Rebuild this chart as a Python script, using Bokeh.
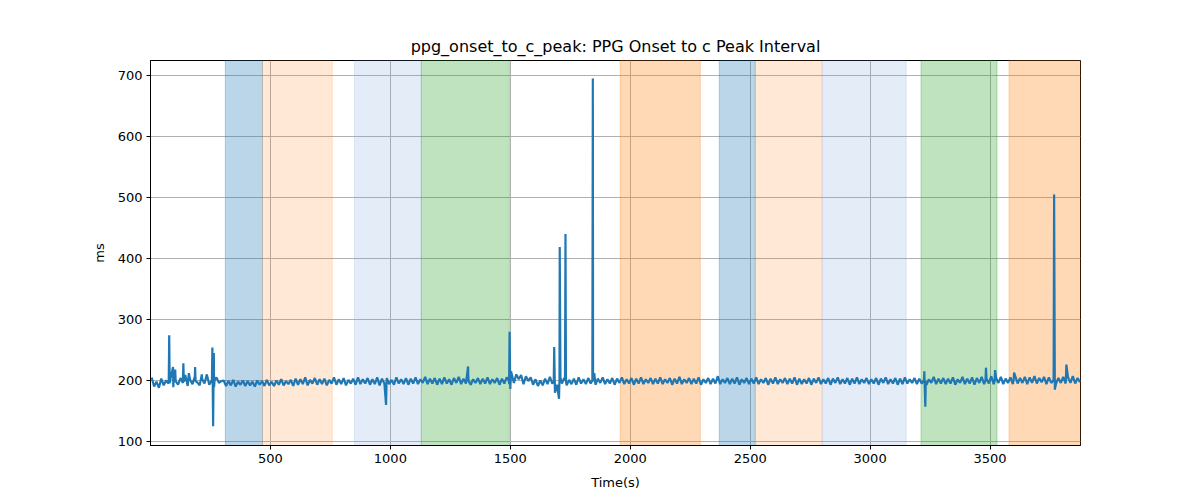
import numpy as np
from bokeh.plotting import figure
from bokeh.models import BoxAnnotation, FixedTicker
from bokeh.embed import file_html
from bokeh.resources import INLINE

# ---- data ----
t_start, t_step = 5, 10
base_values = [
    205, 190, 198, 188, 203, 192, 200, 195, 206, 189, 199, 193, 204, 196, 209, 191, 201, 194, 207, 197, 192, 203, 195, 210, 193, 200, 189, 205, 196, 199,
    200, 191, 199, 192, 201, 190, 198, 193, 200, 191, 199, 192, 198, 190, 200, 193, 199, 191, 201, 192, 198, 191, 200, 193, 202, 192, 199, 194, 201, 191,
    203, 193, 202, 194, 205, 192, 201, 195, 204, 193, 202, 194, 203, 192, 201, 195, 205, 193, 202, 194, 204, 192, 201, 195, 203, 193, 205, 194, 202, 195,
    204, 193, 202, 194, 205, 192, 203, 195, 204, 194, 201, 193, 205, 195, 202, 194, 204, 193, 203, 195, 205, 194, 202, 196, 206, 194, 203, 195, 204, 193,
    203, 194, 205, 195, 202, 193, 204, 196, 206, 194, 203, 195, 205, 193, 202, 196, 204, 194, 203, 195, 205, 194, 202, 196, 204, 193, 203, 195, 205, 194,
    212, 196, 210, 202, 209, 194, 207, 199, 205, 193, 202, 191, 200, 192, 203, 194, 206, 195, 205, 193, 202, 195, 204, 192, 201, 194, 203, 193, 205, 195,
    202, 194, 204, 195, 201, 193, 203, 196, 205, 194, 202, 195, 204, 193, 203, 196, 205, 194, 202, 195, 204, 193, 203, 195, 205, 194, 202, 196, 204, 194,
    203, 195, 205, 194, 202, 196, 204, 193, 203, 195, 206, 194, 202, 196, 204, 194, 203, 195, 205, 193, 202, 196, 204, 194, 203, 195, 207, 194, 202, 196,
    204, 194, 203, 195, 205, 193, 202, 196, 204, 194, 203, 195, 205, 194, 202, 196, 204, 193, 203, 195, 205, 194, 202, 196, 204, 194, 203, 195, 205, 193,
    203, 194, 202, 195, 204, 193, 203, 196, 205, 194, 202, 195, 204, 193, 203, 196, 205, 194, 202, 195, 204, 193, 203, 195, 205, 194, 202, 196, 204, 194,
    202, 195, 204, 193, 203, 196, 205, 194, 202, 195, 204, 193, 203, 194, 205, 195, 202, 196, 204, 194, 203, 195, 205, 193, 202, 196, 206, 194, 203, 195,
    204, 194, 203, 195, 205, 193, 202, 196, 206, 194, 203, 195, 205, 193, 204, 196, 206, 194, 203, 195, 207, 194, 204, 196, 206, 194, 203, 196, 205, 194,
    207, 195, 204, 196, 206, 194, 205, 196, 207, 195, 204, 197, 206, 194, 205, 196, 207, 195, 204, 196, 206, 195, 205, 196, 207, 195, 204, 197,
]
spike_times = [76, 78, 80, 94, 97, 101, 103, 137, 139, 160, 186, 188, 214,
               256, 258, 261, 264, 267, 982, 984, 1324, 1326,
               1494, 1497, 1500, 1503, 1681, 1683, 1686, 1703, 1706, 1709,
               1728, 1730, 1732, 1842, 1844, 1847, 1850,
               3224, 3226, 3230, 3232, 3481, 3483, 3519, 3521, 3598, 3600,
               3764, 3767, 3770, 3816, 3818]
spike_values = [198, 274, 196, 222, 200, 205, 218, 228, 198, 212, 222, 199, 210,
                200, 254, 125, 245, 200, 160, 197, 223, 199,
                200, 280, 186, 215, 198, 255, 180, 170, 419, 205,
                200, 440, 198, 200, 695, 199, 212,
                200, 215, 157, 199, 200, 221, 199, 217, 200, 213,
                200, 505, 185, 200, 226]

band_start = [312, 467, 850, 1129, 1958, 2371, 2521, 2800, 3212, 3579]
band_end = [467, 758, 1129, 1496, 2292, 2521, 2800, 3150, 3529, 3880]
band_color = ["#1f77b4", "#ff7f0e", "#7aa0dc", "#2ca02c", "#ff7f0e",
              "#1f77b4", "#ff7f0e", "#7aa0dc", "#2ca02c", "#ff7f0e"]
band_alpha = [0.3, 0.17, 0.2, 0.3, 0.3, 0.3, 0.17, 0.2, 0.3, 0.3]

x_ticks = [500, 1000, 1500, 2000, 2500, 3000, 3500]
y_ticks = [100, 200, 300, 400, 500, 600, 700]

# ---- merge series ----
base_times = t_start + t_step * np.arange(len(base_values))
t_all = np.concatenate([base_times, np.array(spike_times)])
v_all = np.concatenate([np.array(base_values), np.array(spike_values)])
order = np.argsort(t_all, kind="stable")
t_all = t_all[order]
v_all = v_all[order]

FONT = "DejaVu Sans"
p = figure(width=1192, height=492, output_backend="svg", toolbar_location=None,
           x_range=(0, 3877), y_range=(93.4, 724.6),
           min_border_left=150, min_border_right=112, min_border_top=60, min_border_bottom=47,
           title="ppg_onset_to_c_peak: PPG Onset to c Peak Interval")
p.title.align = "center"
p.title.text_font = FONT
p.title.text_font_size = "16px"
p.title.text_font_style = "normal"
p.title.text_color = "black"
p.title.standoff = 9

for s, e, c, a in zip(band_start, band_end, band_color, band_alpha):
    p.add_layout(BoxAnnotation(left=s, right=e, fill_color=c, fill_alpha=a,
                               line_color=c, line_alpha=a, line_width=1, level="underlay"))

p.line(t_all, v_all, line_color="#1f77b4", line_width=2.2)

p.xaxis.ticker = FixedTicker(ticks=x_ticks)
p.yaxis.ticker = FixedTicker(ticks=y_ticks)
p.xaxis.axis_label = "Time(s)"
p.yaxis.axis_label = "ms"
for ax in (p.xaxis, p.yaxis):
    ax.axis_label_text_font = FONT
    ax.axis_label_text_font_size = "13px"
    ax.axis_label_text_font_style = "normal"
    ax.axis_label_text_color = "black"
    ax.major_label_text_font = FONT
    ax.major_label_text_font_size = "13px"
    ax.major_label_text_color = "black"
    ax.major_tick_out = 4
    ax.major_tick_in = 0
    ax.minor_tick_out = 0
    ax.minor_tick_in = 0
    ax.major_tick_line_color = "black"
    ax.major_label_standoff = 4
    ax.axis_line_color = "black"
p.xaxis.axis_label_standoff = 9
p.yaxis.axis_label_standoff = 8

p.grid.grid_line_color = "#b0b0b0"
p.grid.grid_line_width = 1
p.outline_line_color = "black"
p.outline_line_alpha = 1
p.outline_line_width = 1

open("out.html", "w").write(file_html(p, INLINE))
